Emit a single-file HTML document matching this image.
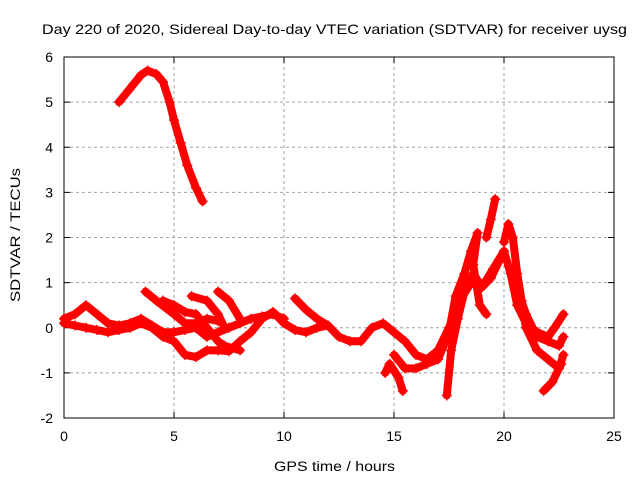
<!DOCTYPE html>
<html><head><meta charset="utf-8"><style>
body{margin:0;background:#fff}
svg{font-family:"Liberation Sans",sans-serif;display:block}
</style></head><body>
<svg id="chart" width="640" height="480" viewBox="0 0 640 480">
<rect width="640" height="480" fill="#fff"/>
<text x="42" y="34" font-size="14" textLength="585" lengthAdjust="spacingAndGlyphs">Day 220 of 2020, Sidereal Day-to-day VTEC variation (SDTVAR) for receiver uysg</text>
<g id="grid"></g>
<g id="axes"></g>
<g id="series"></g>
<text x="274" y="471" font-size="14" textLength="121" lengthAdjust="spacingAndGlyphs">GPS time / hours</text>
<text x="20" y="302" font-size="14" textLength="134" lengthAdjust="spacingAndGlyphs" transform="rotate(-90 20 302)">SDTVAR / TECUs</text>
</svg>
<script>
const xTicks=[0,5,10,15,20,25];
const yTicks=[-2,-1,0,1,2,3,4,5,6];
const traceA=[[2.5,5.0],[3.0,5.3],[3.5,5.6],[3.8,5.7],[4.2,5.62],[4.5,5.45],[4.8,5.0],[5.0,4.6],[5.3,4.1],[5.6,3.6],[6.0,3.1],[6.3,2.8]];
const traceB=[[0,0.1],[0.5,0.05],[1,0.0],[1.5,-0.05],[2,-0.1],[2.5,-0.05],[3,0.0],[3.5,0.1],[4,0.0],[4.5,-0.2],[5,-0.3],[5.5,-0.6],[6,-0.65],[6.5,-0.5],[7,-0.5],[7.5,-0.52],[8,-0.3],[8.5,-0.1],[9,0.2],[9.5,0.35],[10,0.1],[10.5,-0.05],[11,-0.1],[11.5,0],[12,0.05]];
const traceC=[[0,0.2],[0.5,0.3],[1,0.5],[1.5,0.3],[2,0.1],[2.5,0.05],[3,0.1],[3.5,0.2],[4,0.05],[4.5,-0.1],[5,-0.1],[5.5,-0.05],[6,0.0],[6.5,-0.2],[7,-0.1],[7.5,0],[8,0.1],[8.5,0.2],[9,0.25],[9.5,0.3],[10,0.2]];
const traceD=[[3.7,0.8],[4.2,0.6],[5,0.3],[5.5,0.1],[6,0.1],[6.5,0.2],[7,0.15]];
const traceE=[[4.5,0.6],[5,0.5],[5.5,0.35],[6,0.3],[6.5,0],[7,-0.3],[7.3,-0.4],[8,-0.5]];
const traceF=[[5.8,0.7],[6.5,0.6],[7,0.3],[7.3,0]];
const traceG=[[7.0,0.8],[7.5,0.6],[8,0.2]];
const traceH=[[10.5,0.65],[11,0.4],[11.5,0.2],[12,0.05],[12.5,-0.2],[13,-0.3],[13.5,-0.3],[14,0],[14.5,0.1],[15,-0.1],[15.5,-0.3],[16,-0.6],[16.5,-0.7],[17,-0.5],[17.5,0],[18,0.6],[18.5,1.0],[19,0.9],[19.5,1.3],[20,1.7],[20.3,1.2],[20.6,0.5],[21,0.1],[21.5,-0.1],[22,-0.2],[22.3,0],[22.7,0.3]];
const traceI=[[15,-0.6],[15.5,-0.9],[16,-0.9],[16.5,-0.8],[17,-0.7],[17.5,-0.1],[17.8,0.7],[18.2,1.2],[18.5,1.7],[18.8,2.1],[18.6,1.4],[18.9,0.5],[19.2,0.3]];
const traceJ=[[17.4,-1.5],[17.6,-0.5],[17.9,0.2],[18.2,0.8],[18.6,1.2],[19,0.9],[19.4,1.1],[19.8,1.5]];
const traceK=[[19.2,2.0],[19.4,2.4],[19.6,2.85]];
const traceL=[[20.0,1.9],[20.2,2.3],[20.4,2.0],[20.6,1.2],[20.8,0.6],[21,0],[21.5,-0.5],[22,-0.7],[22.5,-0.9],[22.7,-0.6]];
const traceM=[[20.5,1.0],[21,0.3],[21.5,-0.2],[22,-0.3],[22.5,-0.4],[22.7,-0.2]];
const traceN=[[21.8,-1.4],[22.2,-1.2],[22.6,-0.8]];
const traceO=[[14.6,-1.0],[14.8,-0.8],[15.2,-1.1],[15.4,-1.4]];
const traces=[traceA,traceB,traceC,traceD,traceE,traceF,traceG,traceH,traceI,traceJ,traceK,traceL,traceM,traceN,traceO];

const X0=64,X1=614,Y0=418,Y1=57;
function xs(v){return X0+(v-0)/(25-0)*(X1-X0);}
function ys(v){return Y0-(v+2)/(8)*(Y0-Y1);}
const NS='http://www.w3.org/2000/svg';
function mk(tag,attrs,parent){const e=document.createElementNS(NS,tag);for(const k in attrs)e.setAttribute(k,attrs[k]);parent.appendChild(e);return e;}
const grid=document.getElementById('grid'),axes=document.getElementById('axes'),series=document.getElementById('series');
xTicks.forEach(t=>{const x=xs(t);
 if(t>0&&t<25){const g=mk('line',{x1:x,y1:Y0,x2:x,y2:Y1,stroke:'#a0a0a0','stroke-dasharray':'3,3'},grid);
 
 }
 const lb=mk('text',{x:x,y:Y0+23,'font-size':14,'text-anchor':'middle'},axes);lb.textContent=t;
 
 
 mk('line',{x1:x,y1:Y0,x2:x,y2:Y0-6,stroke:'#000'},axes);mk('line',{x1:x,y1:Y1,x2:x,y2:Y1+6,stroke:'#000'},axes);});
yTicks.forEach(t=>{const y=ys(t);
 if(t>-2&&t<6){const g=mk('line',{x1:X0,y1:y,x2:X1,y2:y,stroke:'#a0a0a0','stroke-dasharray':'3,3'},grid);
 
 }
 const lb=mk('text',{x:X0-11,y:y+5,'font-size':14,'text-anchor':'end'},axes);lb.textContent=t;
 
 
 mk('line',{x1:X0,y1:y,x2:X0+6,y2:y,stroke:'#000'},axes);mk('line',{x1:X1,y1:y,x2:X1-6,y2:y,stroke:'#000'},axes);});
const fr=mk('rect',{x:X0,y:Y1,width:X1-X0,height:Y0-Y1,fill:'none',stroke:'#000'},axes);


traces.forEach(tr=>{
 const pl=mk('polyline',{points:tr.map(p=>xs(p[0])+','+ys(p[1])).join(' '),fill:'none',stroke:'#ff0000','stroke-width':8,'stroke-linejoin':'round','stroke-linecap':'round'},series);
 
 
 tr.forEach(p=>{const x=xs(p[0]),y=ys(p[1]);
  const m=mk('path',{d:`M${x-5},${y}H${x+5}M${x},${y-5}V${y+5}`,stroke:'#ff0000','stroke-width':1.5},series);
  
  });
});
</script>
</body></html>
